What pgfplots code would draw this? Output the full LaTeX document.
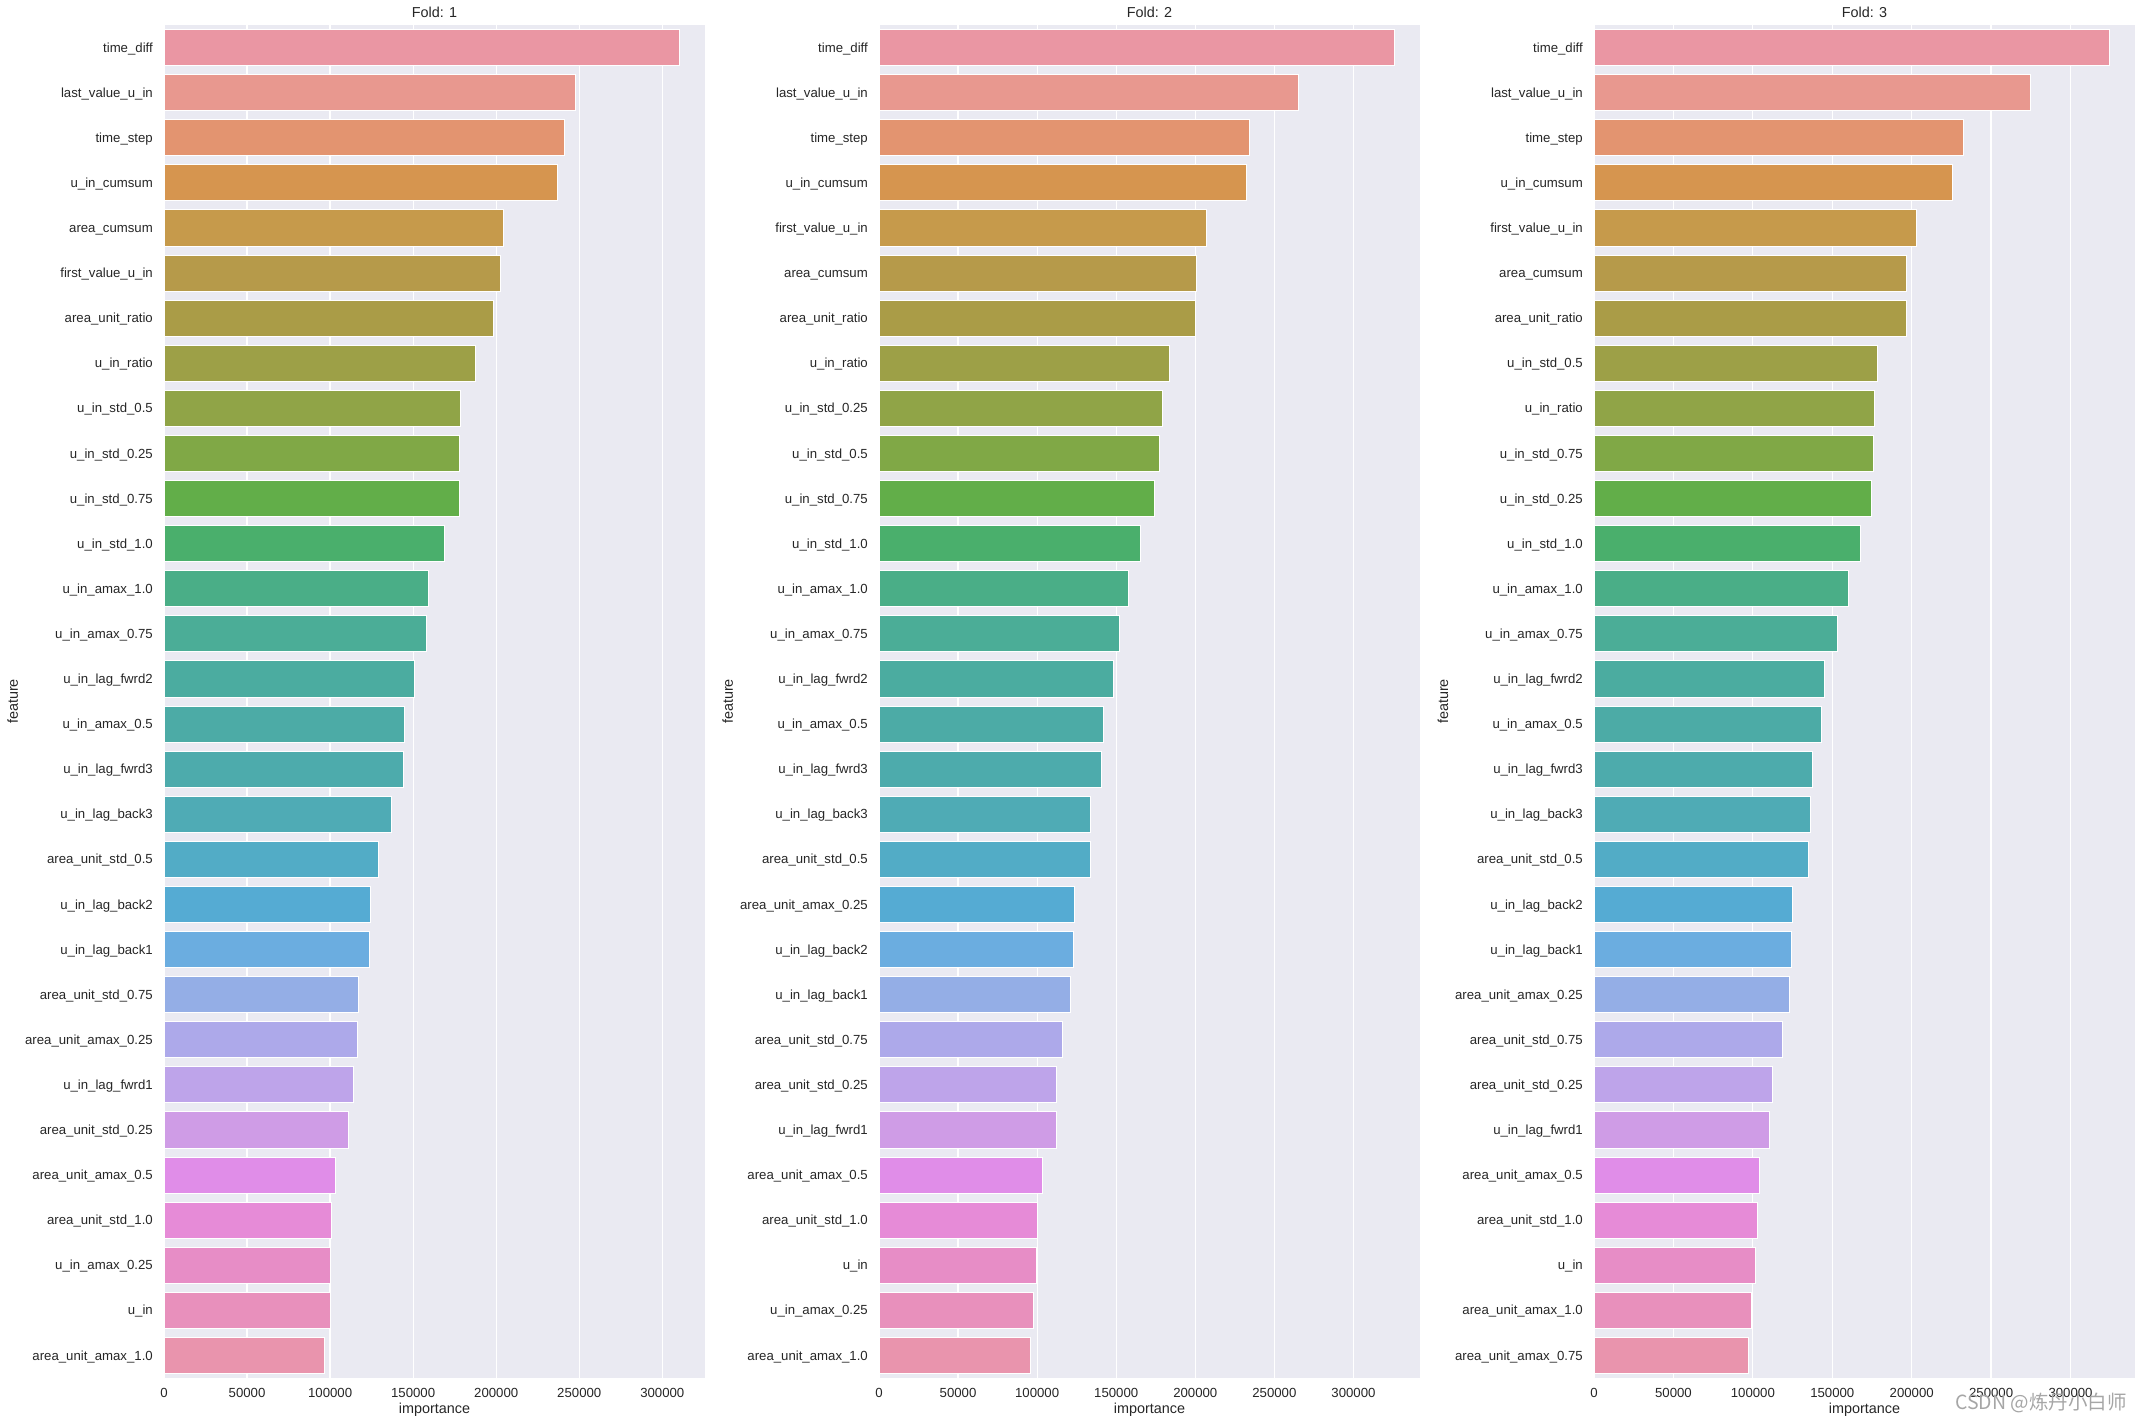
\documentclass[border=0pt]{standalone}
\usepackage{pgfplots}
\usepackage{pgfplotstable}
\pgfplotsset{compat=1.18}
\usepackage{fontspec}
\setmainfont{Liberation Sans}
\newfontfamily\cjk{Noto Sans CJK SC}

\definecolor{bg}{HTML}{EAEAF2}
\definecolor{ink}{HTML}{262626}
% bar colours, by rank
\definecolor{c0}{HTML}{EA96A3}
\definecolor{c1}{HTML}{E8988F}
\definecolor{c2}{HTML}{E39470}
\definecolor{c3}{HTML}{D6954F}
\definecolor{c4}{HTML}{C69A4B}
\definecolor{c5}{HTML}{B69A4A}
\definecolor{c6}{HTML}{AA9C47}
\definecolor{c7}{HTML}{9DA047}
\definecolor{c8}{HTML}{90A447}
\definecolor{c9}{HTML}{80A846}
\definecolor{c10}{HTML}{62AE49}
\definecolor{c11}{HTML}{4AAF6C}
\definecolor{c12}{HTML}{4AAE87}
\definecolor{c13}{HTML}{4BAD97}
\definecolor{c14}{HTML}{4BACA0}
\definecolor{c15}{HTML}{4CABA6}
\definecolor{c16}{HTML}{4DABAC}
\definecolor{c17}{HTML}{4FABB5}
\definecolor{c18}{HTML}{52ACC6}
\definecolor{c19}{HTML}{55ABD3}
\definecolor{c20}{HTML}{6BADE0}
\definecolor{c21}{HTML}{94AEE6}
\definecolor{c22}{HTML}{ADA9EA}
\definecolor{c23}{HTML}{BEA4EA}
\definecolor{c24}{HTML}{CF9CE6}
\definecolor{c25}{HTML}{E08DE8}
\definecolor{c26}{HTML}{E68BD7}
\definecolor{c27}{HTML}{E78DC6}
\definecolor{c28}{HTML}{E890BC}
\definecolor{c29}{HTML}{E994AD}

\pgfplotstableread{
feature value
time\_diff 310200
last\_value\_u\_in 247900
time\_step 241300
u\_in\_cumsum 236900
area\_cumsum 204100
first\_value\_u\_in 202800
area\_unit\_ratio 198100
u\_in\_ratio 187300
u\_in\_std\_0.5 178300
u\_in\_std\_0.25 178100
u\_in\_std\_0.75 177700
u\_in\_std\_1.0 169100
u\_in\_amax\_1.0 159500
u\_in\_amax\_0.75 157900
u\_in\_lag\_fwrd2 150700
u\_in\_amax\_0.5 144600
u\_in\_lag\_fwrd3 144100
u\_in\_lag\_back3 136900
area\_unit\_std\_0.5 128900
u\_in\_lag\_back2 124200
u\_in\_lag\_back1 123700
area\_unit\_std\_0.75 117100
area\_unit\_amax\_0.25 116500
u\_in\_lag\_fwrd1 114000
area\_unit\_std\_0.25 111000
area\_unit\_amax\_0.5 103300
area\_unit\_std\_1.0 100800
u\_in\_amax\_0.25 100400
u\_in 100300
area\_unit\_amax\_1.0 96700
}\foldone

\pgfplotstableread{
feature value
time\_diff 325800
last\_value\_u\_in 265200
time\_step 234200
u\_in\_cumsum 232500
first\_value\_u\_in 207000
area\_cumsum 200900
area\_unit\_ratio 200300
u\_in\_ratio 183800
u\_in\_std\_0.25 179400
u\_in\_std\_0.5 177400
u\_in\_std\_0.75 174200
u\_in\_std\_1.0 165500
u\_in\_amax\_1.0 158000
u\_in\_amax\_0.75 152200
u\_in\_lag\_fwrd2 148400
u\_in\_amax\_0.5 142000
u\_in\_lag\_fwrd3 140900
u\_in\_lag\_back3 133900
area\_unit\_std\_0.5 133700
area\_unit\_amax\_0.25 123300
u\_in\_lag\_back2 123100
u\_in\_lag\_back1 121200
area\_unit\_std\_0.75 116200
area\_unit\_std\_0.25 112500
u\_in\_lag\_fwrd1 111900
area\_unit\_amax\_0.5 103500
area\_unit\_std\_1.0 100300
u\_in 99700
u\_in\_amax\_0.25 97400
area\_unit\_amax\_1.0 95900
}\foldtwo

\pgfplotstableread{
feature value
time\_diff 324400
last\_value\_u\_in 274900
time\_step 232600
u\_in\_cumsum 225700
first\_value\_u\_in 203100
area\_cumsum 196800
area\_unit\_ratio 196700
u\_in\_std\_0.5 178500
u\_in\_ratio 176800
u\_in\_std\_0.75 175900
u\_in\_std\_0.25 174800
u\_in\_std\_1.0 167900
u\_in\_amax\_1.0 160200
u\_in\_amax\_0.75 153300
u\_in\_lag\_fwrd2 145300
u\_in\_amax\_0.5 143300
u\_in\_lag\_fwrd3 137600
u\_in\_lag\_back3 136400
area\_unit\_std\_0.5 135000
u\_in\_lag\_back2 125000
u\_in\_lag\_back1 124400
area\_unit\_amax\_0.25 123300
area\_unit\_std\_0.75 118700
area\_unit\_std\_0.25 112400
u\_in\_lag\_fwrd1 110700
area\_unit\_amax\_0.5 104400
area\_unit\_std\_1.0 103000
u\_in 101800
area\_unit\_amax\_1.0 99300
area\_unit\_amax\_0.75 97500
}\foldthree

\pgfplotsset{
  fold/.style={
    scale only axis, width=541pt, height=1353pt,
    anchor=south west,
    xmin=0, ymin=-0.5, ymax=29.5, y dir=reverse,
    enlargelimits=false,
    axis background/.style={fill=bg},
    axis line style={draw=none},
    major tick length=0pt,
    xmajorgrids, ymajorgrids=false,
    grid style={white, line width=1.25pt},
    xtick={0,50000,100000,150000,200000,250000,300000},
    scaled x ticks=false,
    /pgf/number format/assume math mode=true,
    xticklabel={\pgfmathprintnumber[fixed, precision=0, 1000 sep={}]{\tick}},
    ytick={0,...,29},
    tick label style={font=\fontsize{13.2}{15}\selectfont, text=ink, inner sep=0pt},
    xticklabel style={anchor=north, yshift=-10pt},
    yticklabel style={anchor=base east, xshift=-11pt, yshift=-4.6pt},
    label style={font=\fontsize{14.4}{17}\selectfont, text=ink, inner sep=0pt},
    xlabel={importance}, ylabel={feature},
    xlabel style={at={(axis description cs:0.5,-0.0262)}, anchor=base},
    ylabel style={at={(axis description cs:-0.2699,0.5)}, anchor=base},
    % the default title carries yshift=6pt; cancel it
    title style={at={(axis description cs:0.5,1.0052)}, anchor=base, yshift=-6pt,
                 font=\fontsize{14.4}{17}\selectfont, text=ink, inner sep=0pt},
  },
}

% one bar per row, coloured by its rank
\newcommand{\foldbars}[1]{%
  \pgfplotsinvokeforeach{0,...,29}{%
    \addplot[xbar, bar width=0.8, bar shift=0pt, fill=c##1, draw=white,
      line width=0.9pt, restrict expr to domain={\coordindex}{##1:##1}]
      table[x=value, y expr=\coordindex] {#1};
  }%
}

\begin{document}
\begin{tikzpicture}
\path[use as bounding box] (0,0) rectangle (2143pt,1423pt);

\begin{axis}[fold, at={(164pt,45pt)}, xmax=325700, title={Fold: 1},
  yticklabels from table={\foldone}{feature}]
  \foldbars{\foldone}
\end{axis}

\begin{axis}[fold, at={(879pt,45pt)}, xmax=342100, title={Fold: 2},
  yticklabels from table={\foldtwo}{feature}]
  \foldbars{\foldtwo}
\end{axis}

\begin{axis}[fold, at={(1594pt,45pt)}, xmax=340600, title={Fold: 3},
  yticklabels from table={\foldthree}{feature}]
  \foldbars{\foldthree}
\end{axis}

\node[anchor=base west, inner sep=0pt, text=black!35]
  at (1955pt,13pt) {\cjk\fontsize{19.5}{20}\selectfont CSDN @炼丹小白师};
\end{tikzpicture}
\end{document}
